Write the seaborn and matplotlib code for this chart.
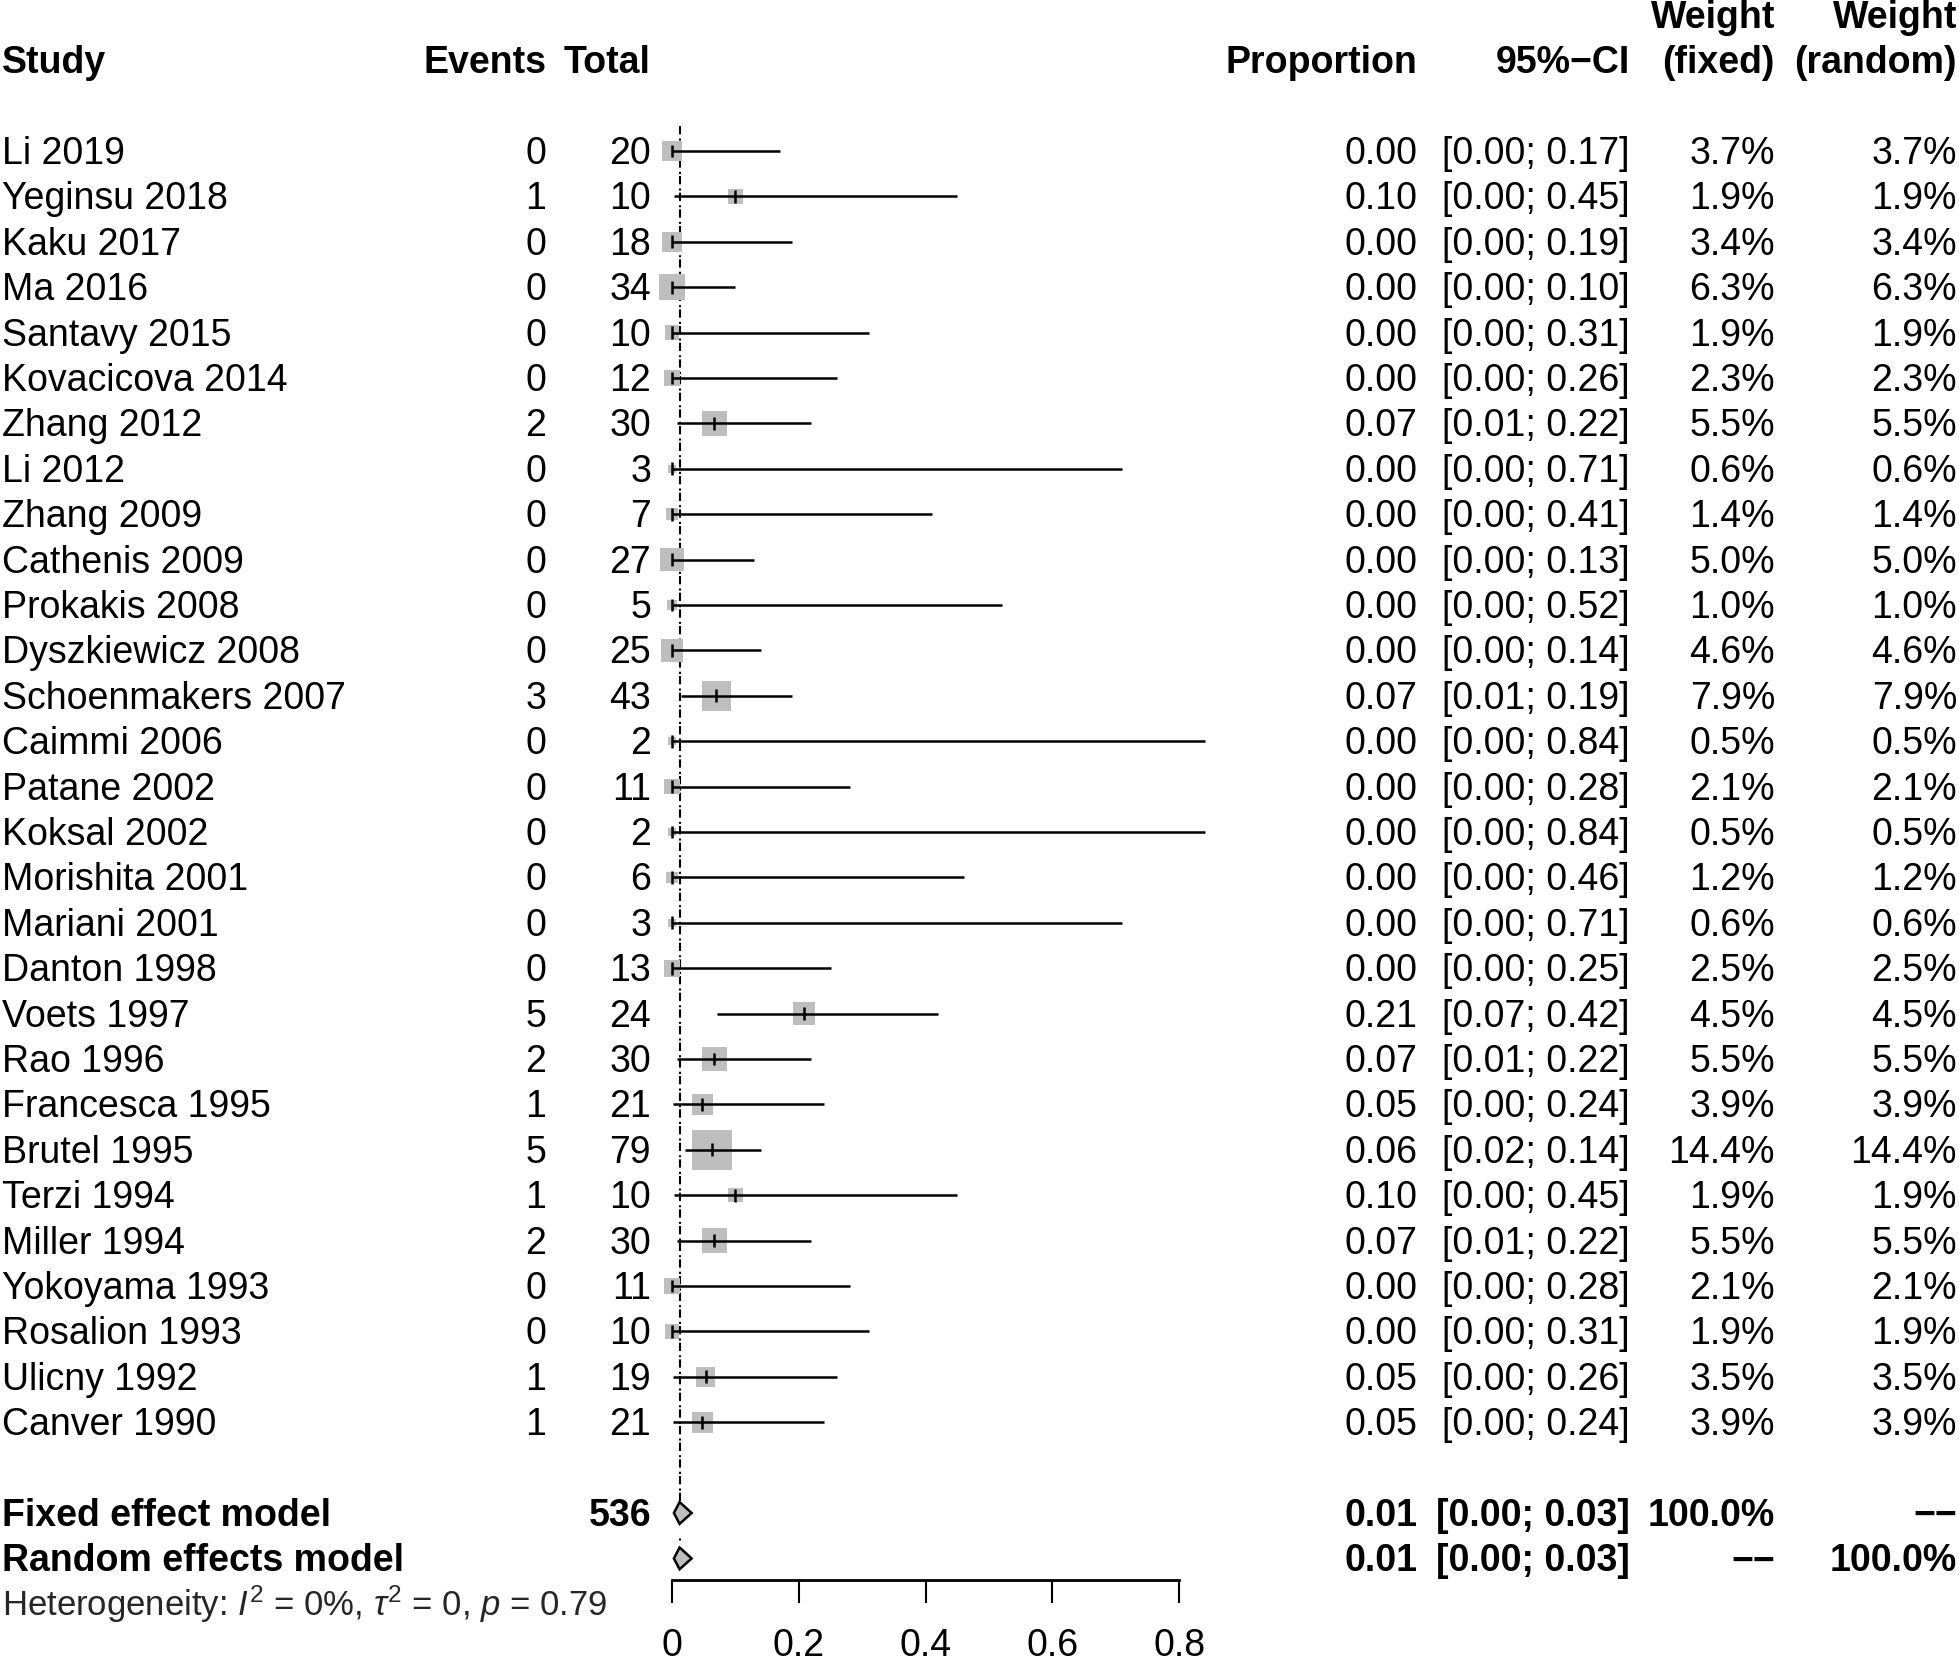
import numpy as np
import pandas as pd
import matplotlib
matplotlib.use("Agg")
import matplotlib.pyplot as plt
import seaborn as sns

# ---------------- data ----------------
studies = ["Li 2019", "Yeginsu 2018", "Kaku 2017", "Ma 2016", "Santavy 2015",
           "Kovacicova 2014", "Zhang 2012", "Li 2012", "Zhang 2009", "Cathenis 2009",
           "Prokakis 2008", "Dyszkiewicz 2008", "Schoenmakers 2007", "Caimmi 2006",
           "Patane 2002", "Koksal 2002", "Morishita 2001", "Mariani 2001", "Danton 1998",
           "Voets 1997", "Rao 1996", "Francesca 1995", "Brutel 1995", "Terzi 1994",
           "Miller 1994", "Yokoyama 1993", "Rosalion 1993", "Ulicny 1992", "Canver 1990"]
events = [0, 1, 0, 0, 0, 0, 2, 0, 0, 0, 0, 0, 3, 0, 0, 0, 0, 0, 0, 5, 2, 1, 5, 1, 2, 0, 0, 1, 1]
totals = [20, 10, 18, 34, 10, 12, 30, 3, 7, 27, 5, 25, 43, 2, 11, 2, 6, 3, 13, 24, 30, 21, 79, 10, 30, 11, 10, 19, 21]
proportion = [0.0, 0.10, 0.0, 0.0, 0.0, 0.0, 0.067, 0.0, 0.0, 0.0, 0.0, 0.0, 0.070, 0.0,
              0.0, 0.0, 0.0, 0.0, 0.0, 0.208, 0.067, 0.048, 0.063, 0.10, 0.067, 0.0, 0.0, 0.053, 0.048]
ci_lower = [0.0, 0.0025, 0.0, 0.0, 0.0, 0.0, 0.008, 0.0, 0.0, 0.0, 0.0, 0.0, 0.014, 0.0,
            0.0, 0.0, 0.0, 0.0, 0.0, 0.071, 0.008, 0.0012, 0.021, 0.0025, 0.008, 0.0, 0.0, 0.0013, 0.0012]
ci_upper = [0.17, 0.45, 0.19, 0.10, 0.31, 0.26, 0.22, 0.71, 0.41, 0.13, 0.52, 0.14, 0.19, 0.84,
            0.28, 0.84, 0.46, 0.71, 0.25, 0.42, 0.22, 0.24, 0.14, 0.45, 0.22, 0.28, 0.31, 0.26, 0.24]
weight_fixed = [3.7, 1.9, 3.4, 6.3, 1.9, 2.3, 5.5, 0.6, 1.4, 5.0, 1.0, 4.6, 7.9, 0.5, 2.1, 0.5,
                1.2, 0.6, 2.5, 4.5, 5.5, 3.9, 14.4, 1.9, 5.5, 2.1, 1.9, 3.5, 3.9]
weight_random = [3.7, 1.9, 3.4, 6.3, 1.9, 2.3, 5.5, 0.6, 1.4, 5.0, 1.0, 4.6, 7.9, 0.5, 2.1, 0.5,
                 1.2, 0.6, 2.5, 4.5, 5.5, 3.9, 14.4, 1.9, 5.5, 2.1, 1.9, 3.5, 3.9]

model_names = ["Fixed effect model", "Random effects model"]
model_est = [0.012, 0.012]
model_lower = [0.003, 0.003]
model_upper = [0.031, 0.031]
model_total = "536"
model_wf = ["100.0%", "\u2212\u2212"]
model_wr = ["\u2212\u2212", "100.0%"]
het_label = r"Heterogeneity: $\mathit{I}^2$ = 0%, $\tau^2$ = 0, $\mathit{p}$ = 0.79"
x_ticks = [0, 0.2, 0.4, 0.6, 0.8]
x_ticklabels = ["0", "0.2", "0.4", "0.6", "0.8"]

# ---------------- style ----------------
sns.set_theme(style="white")
plt.rcParams['font.family'] = ['Liberation Sans', 'DejaVu Sans']
plt.rcParams['mathtext.fontset'] = 'custom'
plt.rcParams['mathtext.rm'] = 'Liberation Sans'
plt.rcParams['mathtext.it'] = 'Liberation Sans:italic'
plt.rcParams['mathtext.bf'] = 'Liberation Sans:bold'

W, H = 1959, 1664
fig = plt.figure(figsize=(W / 100, H / 100), dpi=100)
ax = fig.add_axes([0, 0, 1, 1])

PX_UNIT = 634.0
X0_PX = 672.0
ROW_PX = 45.4
ROW0_PX = 151.0
FS = 27
FS_HET = 25
GREY = "#BEBEBE"
LW = 1.8

n = len(studies)
rows = np.arange(n)
df = pd.DataFrame({"study": studies, "row": rows, "prop": proportion,
                   "lo": ci_lower, "hi": ci_upper, "w": weight_fixed})

# squares (area proportional to weight)
wmax = max(weight_fixed)
wmin = min(weight_fixed)
side_max_pt = 40 * 0.72
amax = side_max_pt ** 2
sns.scatterplot(data=df, x="prop", y="row", size="w",
                sizes=(amax * wmin / wmax, amax), size_norm=(wmin, wmax),
                marker="s", color=GREY, linewidth=0, legend=False, ax=ax, zorder=1)

# CI lines and estimate ticks
ax.hlines(df["row"], df["lo"], df["hi"], color="black", lw=LW, zorder=2)
ax.vlines(df["prop"], df["row"] - 0.14, df["row"] + 0.14, color="black", lw=LW, zorder=3)

# model rows
model_rows = [n + 1, n + 2]
# reference lines (fixed dashed, random dotted) -> overlap gives dash-dot look
ax.vlines(model_est[0], -0.55, model_rows[0] - 0.25, color="black", lw=1.5,
          linestyles=[(0, (4, 4))], zorder=0)
ax.vlines(model_est[1], -0.55, model_rows[1] - 0.25, color="black", lw=1.5,
          linestyles=[(2, (1, 7))], zorder=0)
dh = 0.24
for r, e, lo, hi in zip(model_rows, model_est, model_lower, model_upper):
    ax.fill([lo, e, hi, e, lo], [r, r - dh, r, r + dh, r], facecolor=GREY,
            edgecolor="black", lw=LW, zorder=4)

ax.set_xlim(-X0_PX / PX_UNIT, (W - X0_PX) / PX_UNIT)
ax.set_ylim((H - ROW0_PX) / ROW_PX, -ROW0_PX / ROW_PX)
ax.axis("off")

# ---------------- text columns ----------------
tr = ax.get_yaxis_transform()
col = {"study": 2 / W, "events": 546 / W, "total": 651 / W, "prop": 1417 / W,
       "ci": 1630 / W, "wf": 1775 / W, "wr": 1957 / W}
BASE = 13.0 / ROW_PX  # baseline offset below row centre


def put(x, r, s, ha="right", bold=False, size=FS):
    ax.text(x, r + BASE, s, transform=tr, ha=ha, va="baseline", fontsize=size,
            fontweight="bold" if bold else "normal", color="black")


# header
put(col["study"], -2, "Study", ha="left", bold=True)
put(col["events"], -2, "Events", bold=True)
put(col["total"], -2, "Total", bold=True)
put(col["prop"], -2, "Proportion", bold=True)
put(col["ci"], -2, "95%\u2212CI", bold=True)
put(col["wf"], -3, "Weight", bold=True)
put(col["wf"], -2, "(fixed)", bold=True)
put(col["wr"], -3, "Weight", bold=True)
put(col["wr"], -2, "(random)", bold=True)

for i in range(n):
    put(col["study"], i, studies[i], ha="left")
    put(col["events"], i, f"{events[i]}")
    put(col["total"], i, f"{totals[i]}")
    put(col["prop"], i, f"{proportion[i]:.2f}")
    put(col["ci"], i, f"[{ci_lower[i]:.2f}; {ci_upper[i]:.2f}]")
    put(col["wf"], i, f"{weight_fixed[i]:.1f}%")
    put(col["wr"], i, f"{weight_random[i]:.1f}%")

for k, r in enumerate(model_rows):
    put(col["study"], r, model_names[k], ha="left", bold=True)
    if k == 0:
        put(col["total"], r, model_total, bold=True)
    put(col["prop"], r, f"{model_est[k]:.2f}", bold=True)
    put(col["ci"], r, f"[{model_lower[k]:.2f}; {model_upper[k]:.2f}]", bold=True)
    put(col["wf"], r, model_wf[k], bold=True)
    put(col["wr"], r, model_wr[k], bold=True)

ax.text(col["study"], n + 3 + 12.0 / ROW_PX, het_label, transform=tr, ha="left",
        va="baseline", fontsize=FS_HET)

# ---------------- x axis ----------------
axis_y_px = 1580
ax2 = fig.add_axes([0, (H - axis_y_px) / H, 1, 0.0005])
ax2.set_xlim(ax.get_xlim())
ax2.patch.set_visible(False)
for s in ["top", "left", "right"]:
    ax2.spines[s].set_visible(False)
ax2.spines["bottom"].set_visible(True)
ax2.spines["bottom"].set_color("black")
ax2.spines["bottom"].set_linewidth(2.0)
ax2.spines["bottom"].set_bounds(x_ticks[0], x_ticks[-1])
ax2.set_yticks([])
ax2.set_xticks(x_ticks)
ax2.set_xticklabels(x_ticklabels)
ax2.tick_params(axis="x", bottom=True, direction="out", length=16.5, width=1.5,
                color="black", labelsize=FS, labelcolor="black", pad=18)

fig.savefig("out.png", dpi=100)
